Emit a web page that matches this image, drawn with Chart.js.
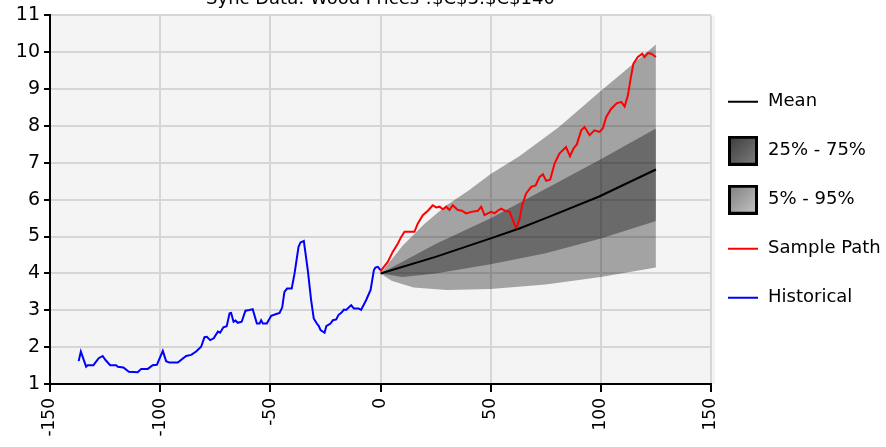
<!DOCTYPE html>
<html>
<head>
<meta charset="utf-8">
<script src="https://cdn.jsdelivr.net/npm/chart.js@4.4.1/dist/chart.umd.min.js"></script>
<style>
  body { margin: 0; background: #fff; }
</style>
</head>
<body>
<canvas id="myChart" width="886" height="447"></canvas>
<script>
const chartTitle = 'Sync Data: Wood Prices !$C$3:$C$140';
const xRange = [-150, 150];
const yRange = [1, 11];

// historical prices (time <= 0)
const histX = [-137, -136, -133.6, -132.9, -130.3, -127.9, -126.1, -124.8, -122.7, -120, -119.2, -116.7, -114.2, -110.2, -108.6, -105.6, -103.4, -101.5, -98.8, -97.3, -95.8, -92, -88.2, -85.9, -83.7, -81.4, -79.9, -78.8, -77.3, -75.7, -73.8, -72.8, -71.3, -69.8, -68.5, -67.8, -66.7, -65.8, -64.8, -63, -61.3, -59.5, -58, -56.1, -54.9, -54.2, -53.4, -51.6, -49.6, -47.3, -45.8, -44.6, -43.6, -42.4, -40.3, -39, -37.2, -36.3, -34.8, -33, -31.5, -30.3, -28.9, -28, -27.2, -25.4, -24.6, -22.7, -21.6, -20.1, -19.1, -17.8, -16.6, -15.6, -13.3, -12.1, -10, -8.8, -6.5, -4.5, -3, -2.3, -1.2, 0];
const histY = [1.62, 1.88, 1.47, 1.51, 1.51, 1.70, 1.76, 1.65, 1.51, 1.51, 1.47, 1.45, 1.33, 1.32, 1.41, 1.41, 1.51, 1.52, 1.90, 1.62, 1.58, 1.58, 1.76, 1.79, 1.88, 2.01, 2.27, 2.28, 2.19, 2.24, 2.42, 2.39, 2.54, 2.57, 2.92, 2.93, 2.69, 2.72, 2.66, 2.69, 2.99, 3.01, 3.03, 2.64, 2.64, 2.73, 2.64, 2.64, 2.85, 2.90, 2.93, 3.08, 3.50, 3.59, 3.59, 4.0, 4.72, 4.84, 4.88, 4.09, 3.28, 2.78, 2.64, 2.57, 2.46, 2.39, 2.57, 2.64, 2.73, 2.75, 2.87, 2.93, 3.02, 3.01, 3.14, 3.05, 3.05, 3.01, 3.28, 3.55, 4.09, 4.16, 4.18, 4.09];

// one simulated path
const sampleX = [0, 1, 3.3, 5.6, 7.9, 9.4, 10.9, 15.4, 16.9, 19.2, 21.5, 23.7, 25.3, 26.8, 28.3, 29.8, 31.3, 32.8, 35.1, 36.9, 38.9, 41.2, 44.2, 45.7, 47.2, 48.7, 50.2, 51.7, 53.2, 54.8, 56.6, 58.6, 60.1, 61.6, 63.1, 64.3, 66.1, 68.4, 70.4, 72.2, 73.7, 75.2, 77, 79, 81.2, 84.2, 86, 87.6, 89.1, 91.1, 92.6, 94.9, 97.1, 99.4, 100.9, 102.4, 104.7, 107.3, 109.3, 110.8, 112.3, 113.5, 114.8, 116.8, 118.8, 119.8, 121.3, 122.9, 125];
const sampleY = [4.05, 4.14, 4.31, 4.59, 4.81, 4.99, 5.13, 5.13, 5.35, 5.58, 5.70, 5.85, 5.79, 5.81, 5.74, 5.81, 5.72, 5.85, 5.72, 5.70, 5.63, 5.67, 5.70, 5.81, 5.58, 5.63, 5.67, 5.63, 5.70, 5.76, 5.70, 5.67, 5.44, 5.22, 5.47, 5.85, 6.17, 6.35, 6.39, 6.62, 6.69, 6.51, 6.54, 6.98, 7.25, 7.43, 7.18, 7.39, 7.50, 7.88, 7.97, 7.75, 7.88, 7.84, 7.93, 8.24, 8.47, 8.62, 8.65, 8.53, 8.83, 9.28, 9.69, 9.87, 9.96, 9.87, 9.98, 9.96, 9.87];

// forecast mean and quantile bands
const meanX = [0, 25, 50, 63, 75, 99, 125];
const meanY = [4.0, 4.45, 4.95, 5.22, 5.5, 6.08, 6.82];
const q95X = [0, 10, 20, 30, 40, 50, 63, 81, 99, 110, 125];
const q95Y = [4.0, 4.75, 5.35, 5.85, 6.25, 6.7, 7.18, 7.97, 8.9, 9.45, 10.21];
const q75X = [0, 25, 50, 75, 100, 125];
const q75Y = [4.0, 4.8, 5.5, 6.3, 7.1, 7.93];
const q25X = [0, 10, 25, 50, 75, 100, 125];
const q25Y = [4.0, 3.9, 4.0, 4.25, 4.55, 4.95, 5.42];
const q05X = [0, 5, 15, 30, 50, 75, 100, 125];
const q05Y = [4.0, 3.8, 3.62, 3.55, 3.58, 3.7, 3.9, 4.16];

const pts = (xs, ys) => xs.map((x, i) => ({ x: x, y: ys[i] }));

function swatch(w, h, paint) {
  const c = document.createElement('canvas');
  c.width = w; c.height = h;
  paint(c.getContext('2d'), w, h);
  return c;
}
const lineSwatch = col => swatch(30, 4, (g, w) => { g.fillStyle = col; g.fillRect(0, 1, w, 2); });
const boxSwatch = (c1, c2) => swatch(30, 30, (g, w, h) => {
  const gr = g.createLinearGradient(0, 0, w, h);
  gr.addColorStop(0, c1); gr.addColorStop(1, c2);
  g.fillStyle = gr; g.fillRect(0, 0, w, h);
  g.strokeStyle = '#000'; g.lineWidth = 3; g.strokeRect(1.5, 1.5, w - 3, h - 3);
});

const plotBg = {
  id: 'plotBg',
  beforeDraw(chart) {
    const { ctx, chartArea: a } = chart;
    ctx.save();
    ctx.fillStyle = '#f4f4f4';
    ctx.fillRect(a.left, a.top, a.right - a.left + 4, a.bottom - a.top);
    ctx.restore();
  }
};
const topTitle = {
  id: 'topTitle',
  afterDraw(chart) {
    const { ctx, chartArea: a } = chart;
    ctx.save();
    ctx.font = '18px "DejaVu Sans"';
    ctx.fillStyle = '#000';
    ctx.textAlign = 'center';
    ctx.textBaseline = 'alphabetic';
    ctx.fillText(chartTitle, (a.left + a.right) / 2, 4);
    ctx.restore();
  }
};
const nudgeLegend = {
  id: 'nudgeLegend',
  afterLayout(chart) { chart.legend.left -= 15; }
};

const line = (label, data, color, order, style) => ({
  label: label, data: data, borderColor: color, borderWidth: 2,
  pointRadius: 0, pointStyle: style, fill: false, tension: 0, order: order
});
const band = (label, data, fill, color, order, style) => ({
  label: label, data: data, borderWidth: 0, borderColor: 'rgba(0,0,0,0)',
  backgroundColor: color, pointRadius: 0, pointStyle: style, fill: fill, tension: 0, order: order
});

new Chart(document.getElementById('myChart'), {
  type: 'line',
  data: {
    datasets: [
      line('Mean', pts(meanX, meanY), '#000', 0, lineSwatch('#000')),
      band('25% - 75%', pts(q75X, q75Y), 2, 'rgba(0,0,0,0.35)', 3, boxSwatch('#3a3a3a', '#808080')),
      band('', pts(q25X, q25Y), false, 'rgba(0,0,0,0)', 3),
      band('5% - 95%', pts(q95X, q95Y), 4, 'rgba(0,0,0,0.33)', 4, boxSwatch('#7c7c7c', '#c8c8c8')),
      band('', pts(q05X, q05Y), false, 'rgba(0,0,0,0)', 4),
      line('Sample Path', pts(sampleX, sampleY), '#ff0000', 1, lineSwatch('#ff0000')),
      line('Historical', pts(histX, histY), '#0000ff', 2, lineSwatch('#0000ff'))
    ]
  },
  options: {
    responsive: false,
    animation: false,
    layout: { padding: { top: 15, left: 0, right: 0, bottom: 0 } },
    scales: {
      x: {
        type: 'linear', min: xRange[0], max: xRange[1],
        afterFit: s => { s.height = 63; },
        border: { color: '#000', width: 2 },
        grid: { color: '#d6d6d6', lineWidth: 2, tickLength: 8, tickColor: '#000', tickWidth: 2 },
        ticks: { stepSize: 50, autoSkip: false, minRotation: 90, maxRotation: 90, padding: 6,
                 color: '#000', font: { family: 'DejaVu Sans', size: 17 } }
      },
      y: {
        min: yRange[0], max: yRange[1],
        afterFit: s => { s.width = 50; },
        border: { color: '#000', width: 2 },
        grid: { color: '#d6d6d6', lineWidth: 2, tickLength: 6, tickColor: '#000', tickWidth: 2 },
        ticks: { stepSize: 1, padding: 4, color: '#000', font: { family: 'DejaVu Sans', size: 19 } }
      }
    },
    plugins: {
      title: { display: false },
      tooltip: { enabled: false },
      legend: {
        position: 'right',
        fullSize: false,
        maxWidth: 175,
        labels: {
          usePointStyle: true,
          pointStyleWidth: 32,
          padding: 31,
          color: '#000',
          font: { family: 'DejaVu Sans', size: 18 },
          filter: it => it.text !== '',
          sort: (a, b) => a.datasetIndex - b.datasetIndex
        }
      }
    }
  },
  plugins: [plotBg, topTitle, nudgeLegend]
});
</script>
</body>
</html>
